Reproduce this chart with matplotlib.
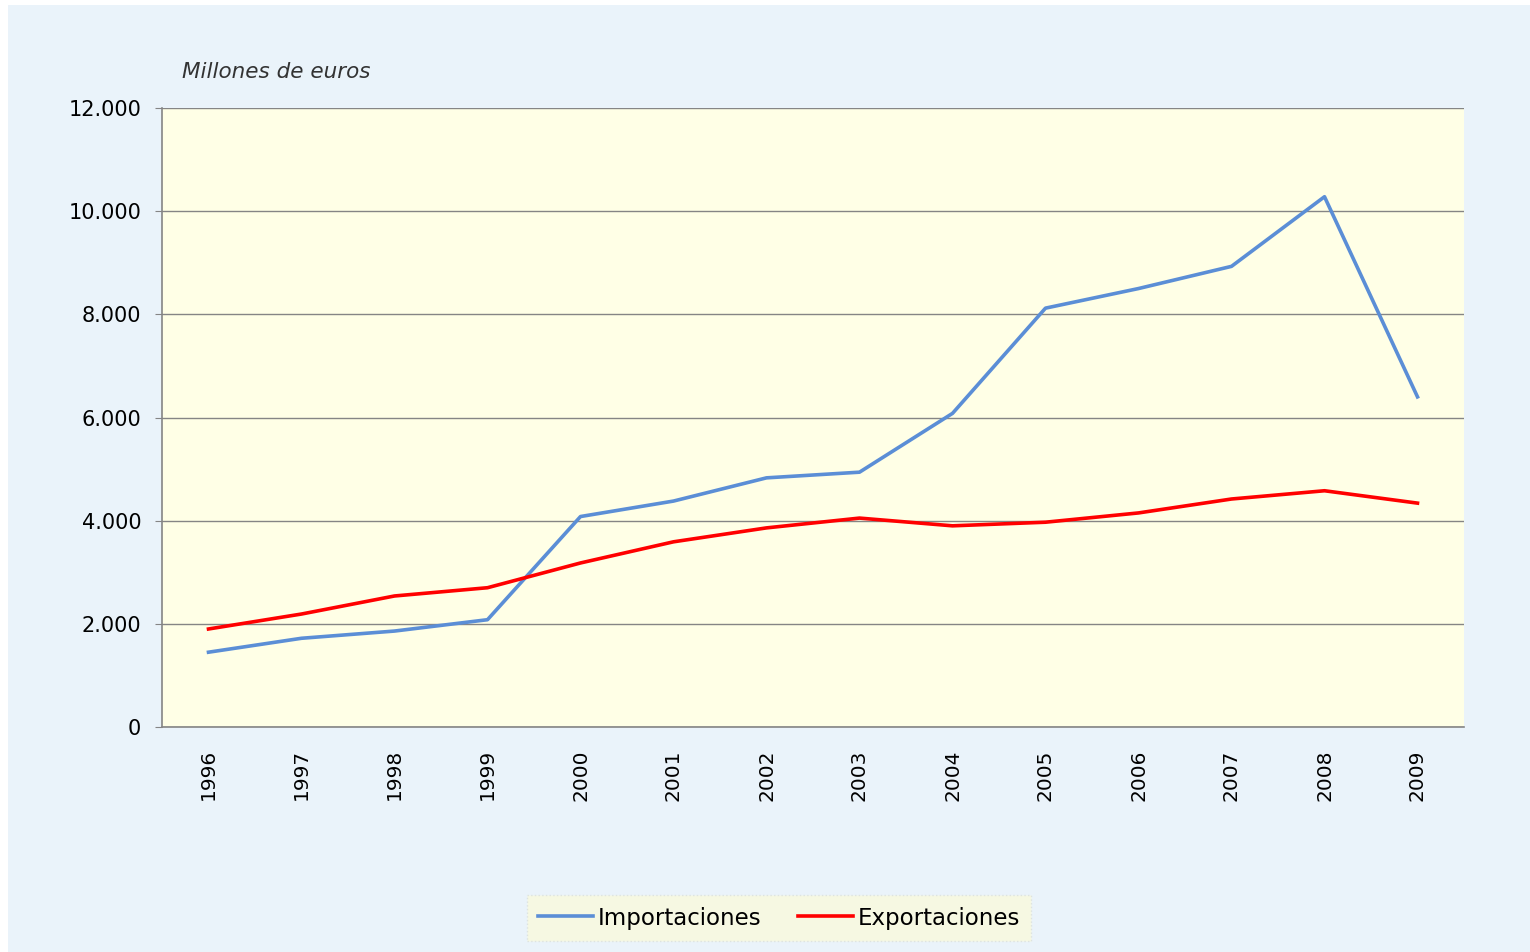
#!/usr/bin/env python3
"""
Importaciones / Exportaciones 1996-2009 (millones de euros).
"""

import matplotlib
import matplotlib.pyplot as plt
from matplotlib.patches import Rectangle
from matplotlib.ticker import FuncFormatter

matplotlib.rcParams['font.family'] = 'DejaVu Sans'

years = [str(y) for y in range(1996, 2010)]
importaciones = [1450, 1720, 1860, 2080, 4080, 4380, 4830, 4940,
                 6080, 8120, 8500, 8930, 10280, 6400]
exportaciones = [1900, 2190, 2540, 2700, 3180, 3590, 3860, 4050,
                 3900, 3970, 4150, 4420, 4580, 4340]
y_ticks = [0, 2000, 4000, 6000, 8000, 10000, 12000]

BLUE = '#5B8ED6'
RED = '#FF0000'
PANEL = '#EAF3FA'


def thousands(v, pos):
    return f'{int(v):,}'.replace(',', '.')


def plot_chart():
    fig = plt.figure(figsize=(15.3, 9.52), dpi=100, facecolor='white')
    # light blue chart panel with a thin white margin
    fig.patches.append(Rectangle((8 / 1530, 0), 1 - 8 / 1530, 1 - 5 / 952,
                                 transform=fig.transFigure, facecolor=PANEL,
                                 edgecolor='none', zorder=-10))

    ax = fig.add_axes([162 / 1530, 1 - 727 / 952, 1302 / 1530, 619 / 952])
    ax.set_facecolor('#FFFFE6')

    x = list(range(len(years)))
    ax.plot(x, importaciones, color=BLUE, linewidth=2.6, label='Importaciones',
            solid_joinstyle='round', zorder=3)
    ax.plot(x, exportaciones, color=RED, linewidth=2.6, label='Exportaciones',
            solid_joinstyle='round', zorder=3)

    ax.set_xlim(-0.5, len(years) - 0.5)
    ax.set_ylim(0, 12000)
    ax.set_yticks(y_ticks)
    ax.yaxis.set_major_formatter(FuncFormatter(thousands))
    ax.set_xticks(x)
    ax.set_xticklabels(years, rotation=90)

    ax.grid(True, axis='y', color='#858585', linewidth=1.0)
    ax.set_axisbelow(True)
    for side in ['top', 'right']:
        ax.spines[side].set_visible(False)
    for side in ['left', 'bottom']:
        ax.spines[side].set_color('#858585')
        ax.spines[side].set_linewidth(1.2)

    ax.tick_params(axis='y', length=5, color='#858585', labelsize=15, pad=10)
    ax.tick_params(axis='x', length=0, labelsize=14.5, pad=16)

    fig.text(182 / 1530, 1 - 72 / 952, 'Millones de euros', fontsize=15.5,
             style='italic', color='#333333', va='center', ha='left')

    leg = fig.legend(loc='center', bbox_to_anchor=(779 / 1530, 1 - 918 / 952),
                     ncol=2, fontsize=16.5, frameon=True, fancybox=False,
                     handlelength=2.4, handletextpad=0.2, columnspacing=1.6,
                     borderpad=0.5)
    frame = leg.get_frame()
    frame.set_facecolor('#F6F8E2')
    frame.set_edgecolor('#DDE3E0')
    frame.set_linestyle(':')
    frame.set_alpha(1)

    fig.savefig('out.png', dpi=100, facecolor=fig.get_facecolor())
    plt.close(fig)


if __name__ == "__main__":
    plot_chart()
